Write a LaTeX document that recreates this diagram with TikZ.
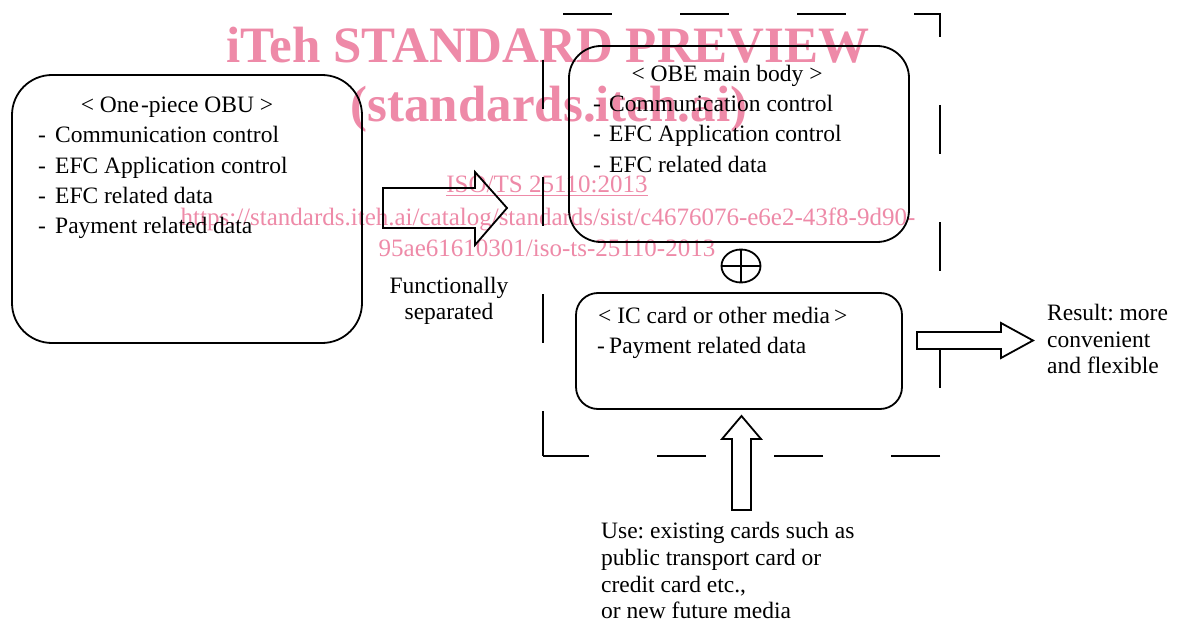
\documentclass[tikz,border=0pt]{standalone}
\usepackage{fontspec}
\setmainfont{Liberation Serif}
\usetikzlibrary{shapes.geometric}
\definecolor{wm}{RGB}{238,138,168}
\begin{document}
\frenchspacing
\begin{tikzpicture}[x=1pt,y=-1pt,
  box/.style={draw, line width=1.8pt, inner sep=0pt},
  txt/.style={font=\fontsize{23.5}{30}\selectfont, inner sep=0pt},
  blockarrow/.style={draw, line width=1.8pt, line join=miter},
  dashline/.style={line width=1.8pt, dash pattern=on 49pt off 68pt},
  wmbig/.style={font=\fontsize{51}{60}\selectfont\bfseries, text=wm, inner sep=0pt},
  wmsmall/.style={font=\fontsize{25}{30}\selectfont, text=wm, inner sep=0pt},
]
\fill[white] (0,0) rectangle (1181,623);
\useasboundingbox (0,0) rectangle (1181,623);

% watermark (behind the drawing)
\node[wmbig, anchor=base] (wm1) at (548,63) {iTeh STANDARD PREVIEW};
\node[wmbig, anchor=base] (wm2) at (549,122) {(standards.iteh.ai)};
\node[wmsmall, anchor=base] (wm3) at (547,193) {\underline{ISO/TS 25110:2013}};
\node[wmsmall, anchor=base] (wm4) at (548,225) {https://standards.iteh.ai/catalog/standards/sist/c4676076-e6e2-43f8-9d90-};
\node[wmsmall, anchor=base] (wm5) at (547,256) {95ae61610301/iso-ts-25110-2013};

% dashed container
\draw[dashline, dash phase=97pt] (543,14) -- (940,14) -- (940,456) -- (543,456);
\draw[dashline, dash phase=71pt] (543,14) -- (543,456);

% one-piece OBU
\node[box, rounded corners=40pt, minimum width=350pt, minimum height=268pt] (obu) at (187,209) {};
\node[txt, anchor=base] (obut) at (177,113) {< One\kern2pt-piece OBU >};
\node[txt, anchor=base west] (obu1) at (38,143) {\makebox[17pt][l]{-}Communication control};
\node[txt, anchor=base west] (obu2) at (38,173) {\makebox[17pt][l]{-}EFC Application control};
\node[txt, anchor=base west] (obu3) at (38,203) {\makebox[17pt][l]{-}EFC related data};
\node[txt, anchor=base west] (obu4) at (38,233) {\makebox[17pt][l]{-}Payment related data};

% OBE main body
\node[box, rounded corners=32pt, minimum width=340pt, minimum height=196pt] (obe) at (739,144) {};
\node[txt, anchor=base] (obet) at (727,82) {< OBE main body >};
\node[txt, anchor=base west] (obe1) at (593,112) {\makebox[16pt][l]{-}Communication control};
\node[txt, anchor=base west] (obe2) at (593,142) {\makebox[16pt][l]{-}EFC Application control};
\node[txt, anchor=base west] (obe3) at (593,172) {\makebox[16pt][l]{-}EFC related data};

% circle plus
\node[draw, ellipse, line width=1.8pt, minimum width=39pt, minimum height=33pt, inner sep=0pt] (plus) at (741,266) {};
\draw[line width=1.8pt] (plus.north) -- (plus.south);
\draw[line width=1.8pt] (plus.west) -- (plus.east);

% IC card
\node[box, rounded corners=22pt, minimum width=326pt, minimum height=116pt] (ic) at (739,351) {};
\node[txt, anchor=base west] (ict) at (598,323) {< IC card or other media\kern4pt >};
\node[txt, anchor=base west] (ic1) at (597,353) {\makebox[12pt][l]{-}Payment related data};

% arrows
\draw[blockarrow] (383,188) -- (475,188) -- (475,172) -- (507,208) -- (475,245) -- (475,228) -- (383,228) -- cycle;
\draw[blockarrow, fill=white] (917,332) -- (1001,332) -- (1001,323) -- (1033,340.5) -- (1001,358) -- (1001,349) -- (917,349) -- cycle;
\draw[blockarrow] (732,510) -- (732,439) -- (722,439) -- (741.5,416) -- (761,439) -- (751,439) -- (751,510) -- cycle;

% labels
\node[txt, anchor=base] (fs1) at (449,293) {Functionally};
\node[txt, anchor=base] (fs2) at (449,319) {separated};
\node[txt, anchor=base west] (res1) at (1047,320) {Result: more};
\node[txt, anchor=base west] (res2) at (1047,347) {convenient};
\node[txt, anchor=base west] (res3) at (1047,373) {and flexible};
\node[txt, anchor=base west] (use1) at (601,538) {Use: existing cards such as};
\node[txt, anchor=base west] (use2) at (601,565) {public transport card or};
\node[txt, anchor=base west] (use3) at (601,592) {credit card etc.,};
\node[txt, anchor=base west] (use4) at (601,618) {or new future media};
\end{tikzpicture}
\end{document}
